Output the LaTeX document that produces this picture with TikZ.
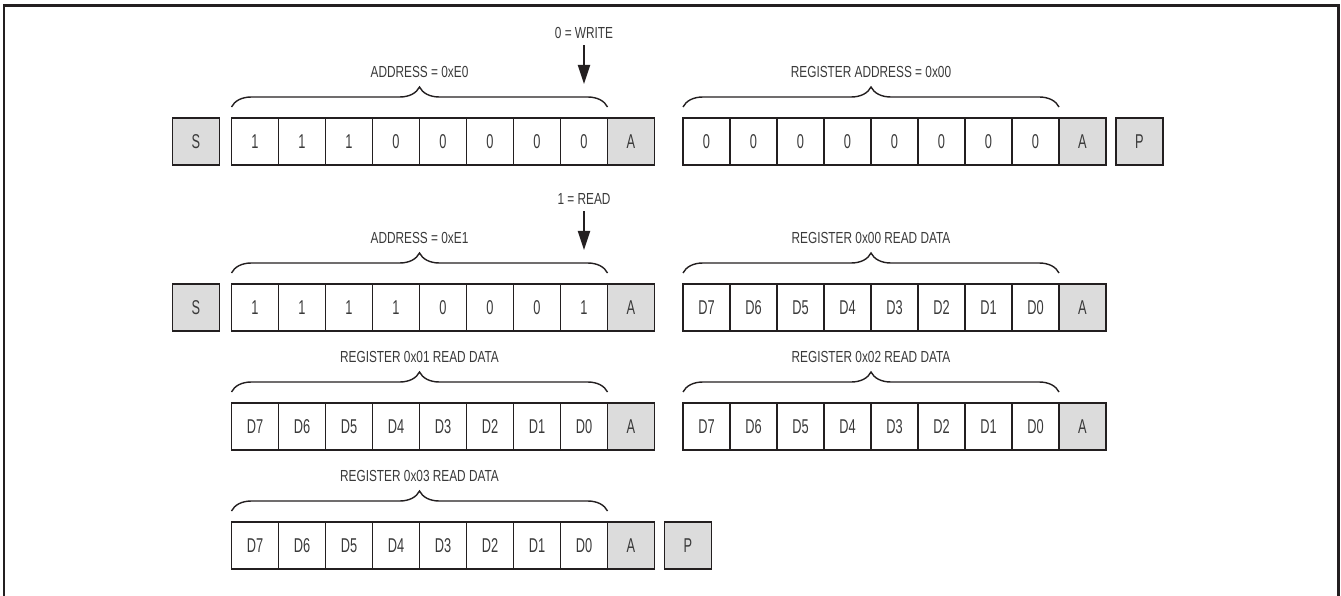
\documentclass[tikz,border=0pt]{standalone}
\usepackage{fontspec}
\setmainfont{Liberation Sans}[FakeStretch=0.74]
\newfontfamily\cellfont{Liberation Sans}[FakeStretch=0.64]
\usetikzlibrary{arrows.meta,decorations.pathreplacing,calc}
\definecolor{ink}{HTML}{231F20}
\definecolor{txt}{HTML}{3A3A3A}
\definecolor{shade}{HTML}{DCDCDC}
\begin{document}
\begin{tikzpicture}[x=1pt,y=-1pt,
  cell/.style={draw=ink, line width=1.6pt, minimum width=47pt, minimum height=47pt,
    inner sep=0pt, outer sep=0pt, text=txt, font=\cellfont\fontsize{20}{20}\selectfont},
  gcell/.style={cell, fill=shade},
  lbl/.style={text=txt, font=\fontsize{16}{16}\selectfont, inner sep=0pt, anchor=base},
  brc/.style={draw=ink, line width=1.4pt, decorate, decoration={brace, amplitude=20pt}},
  arr/.style={draw=ink, line width=2.2pt, -{Triangle[length=19pt,width=12pt]}, shorten <=6.7pt}
]
\useasboundingbox (0,0) rectangle (1341,596);
\draw[ink, line width=2.6pt] (4,600) -- (4,5.5) -- (1338.5,5.5) -- (1338.5,600);

% ---------- Row 1 : write address ----------
\node[gcell] (s1) at (196,141.5) {S};
\foreach \v [count=\i] in {1,1,1,0,0,0,0,0}
  \node[cell] (a1b\i) at ({208+47*\i},141.5) {\v};
\node[gcell] (a1k) at (631,141.5) {A};
\foreach \v [count=\i] in {0,0,0,0,0,0,0,0}
  \node[cell] (r1b\i) at ({659.5+47*\i},141.5) {\v};
\node[gcell] (r1k) at (1082.5,141.5) {A};
\node[gcell] (p1) at (1139.5,141.5) {P};

\draw[brc] ([yshift=11pt]a1b1.north west) -- ([yshift=11pt]a1b8.north east);
\path ($(a1b1.north west)!0.5!(a1b8.north east)$) ++(0,-40.7) node[lbl] (la1) {ADDRESS = 0xE0};
\draw[brc] ([yshift=11pt]r1b1.north west) -- ([yshift=11pt]r1b8.north east);
\path ($(r1b1.north west)!0.5!(r1b8.north east)$) ++(0,-40.7) node[lbl] (lr1) {REGISTER ADDRESS = 0x00};
\path (a1b8.north) ++(0,-79.7) node[lbl] (w1) {0 = WRITE};
\coordinate (t1) at ([yshift=34pt]a1b8.north);
\draw[arr] (w1.south) -- (t1);

% ---------- Row 2 : read address + data 0x00 ----------
\node[gcell] (s2) at (196,307.5) {S};
\foreach \v [count=\i] in {1,1,1,1,0,0,0,1}
  \node[cell] (a2b\i) at ({208+47*\i},307.5) {\v};
\node[gcell] (a2k) at (631,307.5) {A};
\foreach \v [count=\i] in {D7,D6,D5,D4,D3,D2,D1,D0}
  \node[cell] (r2b\i) at ({659.5+47*\i},307.5) {\v};
\node[gcell] (r2k) at (1082.5,307.5) {A};

\draw[brc] ([yshift=11pt]a2b1.north west) -- ([yshift=11pt]a2b8.north east);
\path ($(a2b1.north west)!0.5!(a2b8.north east)$) ++(0,-40.7) node[lbl] (la2) {ADDRESS = 0xE1};
\draw[brc] ([yshift=11pt]r2b1.north west) -- ([yshift=11pt]r2b8.north east);
\path ($(r2b1.north west)!0.5!(r2b8.north east)$) ++(0,-40.7) node[lbl] (lr2) {REGISTER 0x00 READ DATA};
\path (a2b8.north) ++(0,-79.7) node[lbl] (w2) {1 = READ};
\coordinate (t2) at ([yshift=34pt]a2b8.north);
\draw[arr] (w2.south) -- (t2);

% ---------- Row 3 : data 0x01, 0x02 ----------
\foreach \v [count=\i] in {D7,D6,D5,D4,D3,D2,D1,D0}
  \node[cell] (a3b\i) at ({208+47*\i},426.5) {\v};
\node[gcell] (a3k) at (631,426.5) {A};
\foreach \v [count=\i] in {D7,D6,D5,D4,D3,D2,D1,D0}
  \node[cell] (r3b\i) at ({659.5+47*\i},426.5) {\v};
\node[gcell] (r3k) at (1082.5,426.5) {A};

\draw[brc] ([yshift=11pt]a3b1.north west) -- ([yshift=11pt]a3b8.north east);
\path ($(a3b1.north west)!0.5!(a3b8.north east)$) ++(0,-40.7) node[lbl] (la3) {REGISTER 0x01 READ DATA};
\draw[brc] ([yshift=11pt]r3b1.north west) -- ([yshift=11pt]r3b8.north east);
\path ($(r3b1.north west)!0.5!(r3b8.north east)$) ++(0,-40.7) node[lbl] (lr3) {REGISTER 0x02 READ DATA};

% ---------- Row 4 : data 0x03 ----------
\foreach \v [count=\i] in {D7,D6,D5,D4,D3,D2,D1,D0}
  \node[cell] (a4b\i) at ({208+47*\i},545.5) {\v};
\node[gcell] (a4k) at (631,545.5) {A};
\node[gcell] (p4) at (688,545.5) {P};

\draw[brc] ([yshift=11pt]a4b1.north west) -- ([yshift=11pt]a4b8.north east);
\path ($(a4b1.north west)!0.5!(a4b8.north east)$) ++(0,-40.7) node[lbl] (la4) {REGISTER 0x03 READ DATA};
\end{tikzpicture}
\end{document}
